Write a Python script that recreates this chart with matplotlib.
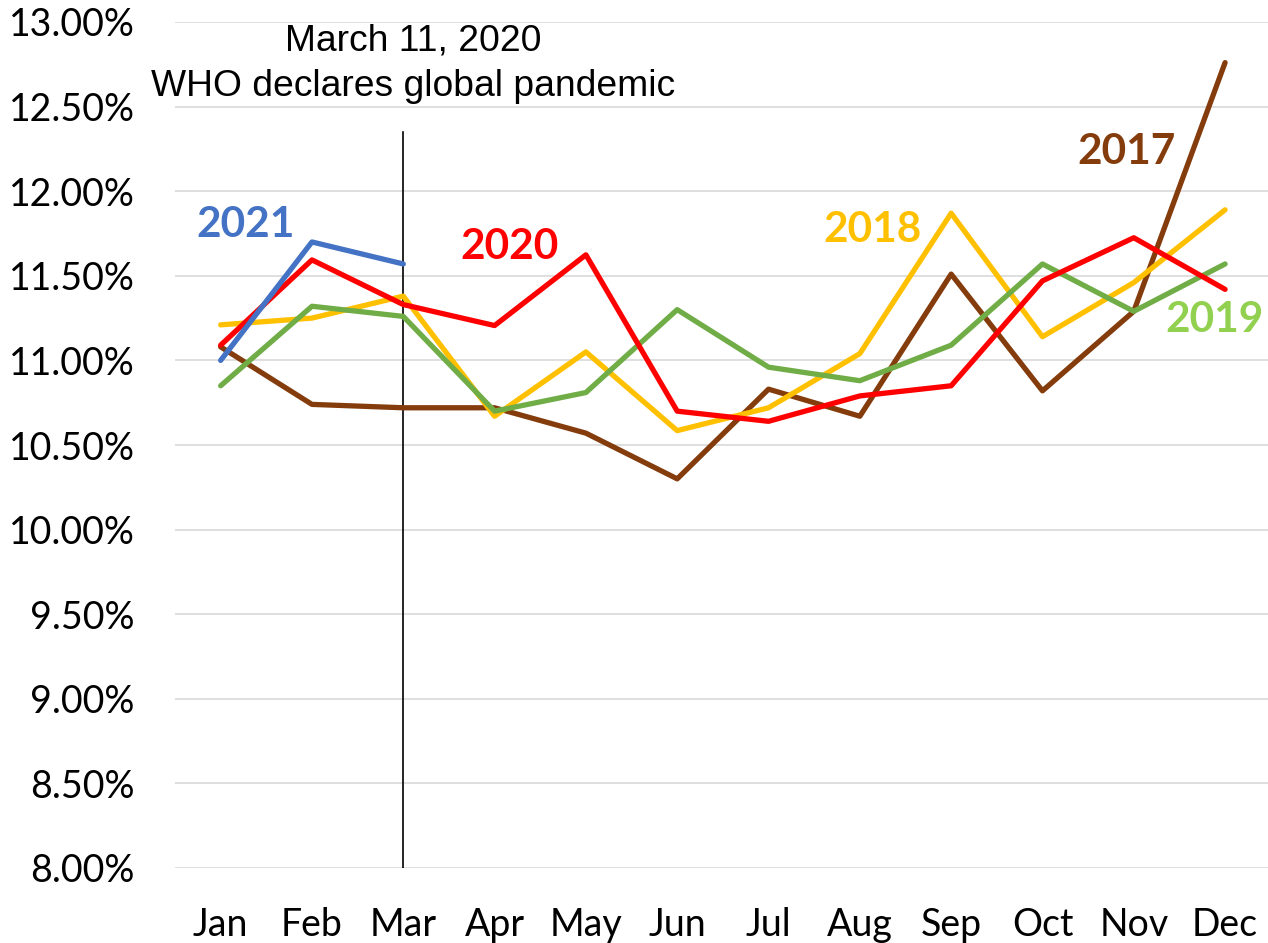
import numpy as np
import matplotlib
matplotlib.use("Agg")
import matplotlib.pyplot as plt
from matplotlib.ticker import FuncFormatter

# monthly rates (%)
months = ['Jan', 'Feb', 'Mar', 'Apr', 'May', 'Jun',
          'Jul', 'Aug', 'Sep', 'Oct', 'Nov', 'Dec']
y2017 = [11.08, 10.74, 10.72, 10.72, 10.57, 10.30, 10.83, 10.67, 11.51, 10.82, 11.29, 12.76]
y2018 = [11.21, 11.25, 11.38, 10.67, 11.05, 10.585, 10.72, 11.04, 11.87, 11.14, 11.46, 11.89]
y2019 = [10.85, 11.32, 11.26, 10.70, 10.81, 11.30, 10.96, 10.88, 11.09, 11.57, 11.29, 11.57]
y2020 = [11.09, 11.594, 11.33, 11.206, 11.624, 10.70, 10.64, 10.79, 10.85, 11.47, 11.725, 11.42]
y2021 = [11.00, 11.70, 11.57]

series = [
    ('2017', y2017, '#843C0C', '#843C0C', 9.92, 12.23),
    ('2018', y2018, '#FFC000', '#FFC000', 7.14, 11.77),
    ('2019', y2019, '#70AD47', '#92D050', 10.88, 11.24),
    ('2020', y2020, '#FF0000', '#FF0000', 3.16, 11.67),
    ('2021', y2021, '#4472C4', '#4472C4', 0.27, 11.80),
]

fig = plt.figure(figsize=(12.68, 9.43), dpi=100)
ax = fig.add_axes([175 / 1268, 1 - 868 / 943, 1 - 175 / 1268, (868 - 22) / 943])

x = np.arange(len(months))
for name, vals, col, lab_col, lx, ly in series:
    ax.plot(x[:len(vals)], vals, color=col, lw=3.8,
            solid_capstyle='round', solid_joinstyle='round', zorder=3)
    ax.text(lx, ly, name, color=lab_col, fontsize=30.5, fontweight='bold',
            family='Lato', ha='center', va='center', zorder=4)

# pandemic marker
ax.plot([2, 2], [8, 12.35], color='black', lw=1.2, zorder=2)
ax.text(2.11, 12.89, 'March 11, 2020', fontsize=26.8, family='Liberation Sans',
        ha='center', va='center', clip_on=False)
ax.text(2.11, 12.62, 'WHO declares global pandemic', fontsize=26.8,
        family='Liberation Sans', ha='center', va='center', clip_on=False)

ax.set_xlim(-0.5, 11.47)
ax.set_ylim(8, 13)
ax.set_xticks(x)
ax.set_xticklabels(months)
ax.set_yticks(np.arange(8, 13.01, 0.5))
ax.yaxis.set_major_formatter(FuncFormatter(lambda v, p: '%.2f%%' % v))
ax.grid(axis='y', color='#D9D9D9', lw=1.2)
ax.set_axisbelow(True)
for s in ax.spines.values():
    s.set_visible(False)
ax.tick_params(length=0)
ax.tick_params(axis='y', pad=29)
ax.tick_params(axis='x', pad=28)
for lab in ax.get_xticklabels() + ax.get_yticklabels():
    lab.set_fontsize(27)
    lab.set_family('Lato')

fig.savefig('out.png', dpi=100)
